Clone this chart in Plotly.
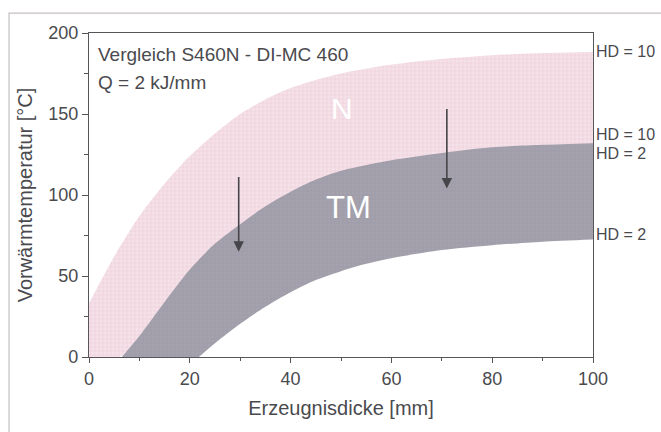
import plotly.graph_objects as go

# ---- data ----
n_upper_x = [0, 5, 10, 15, 20, 25, 30, 35, 40, 45, 50, 60, 70, 80, 90, 100]
n_upper_y = [33, 62, 87, 107, 124, 138, 150, 159, 166, 171, 175, 180.5, 184, 186.3, 187.6, 188.5]
n_lower_x = [0, 6, 10, 20, 30, 40, 50, 60, 70, 80, 90, 100]
n_lower_y = [0, 0, 10, 45, 70, 90, 103, 112, 118, 122, 124.5, 126]

tm_upper_x = [6.5, 10, 15, 20, 25, 30, 35, 40, 45, 50, 60, 70, 80, 90, 100]
tm_upper_y = [0, 13, 34, 54, 70, 82, 93, 102, 109.5, 115, 121.5, 126, 129.5, 131, 132]
tm_lower_x = [21.8, 25, 30, 35, 40, 45, 50, 55, 60, 70, 80, 90, 100]
tm_lower_y = [0, 8.5, 20.5, 31, 40, 47.5, 53, 57.5, 61, 66, 69, 71.2, 72.6]

x_ticks = [0, 20, 40, 60, 80, 100]
y_ticks = [0, 50, 100, 150, 200]

arrows = [  # x, from y, to y
    (29.7, 112, 65),
    (71, 154, 104),
]
right_labels = [("HD = 10", 188.5), ("HD = 10", 137.2), ("HD = 2", 125.9), ("HD = 2", 75.5)]

TXT = "#4a4a4e"
FONT = "Liberation Sans, Arial, sans-serif"

fig = go.Figure()


def band(xl, yl, xu, yu, fillcolor, pattern, name):
    fig.add_trace(go.Scatter(
        x=xl, y=yl, mode="lines", line=dict(width=0, shape="spline", smoothing=0.8),
        hoverinfo="skip", showlegend=False, name=name + " lower"))
    fig.add_trace(go.Scatter(
        x=xu, y=yu, mode="lines", line=dict(width=0, shape="spline", smoothing=0.8),
        fill="tonexty", fillcolor=fillcolor, fillpattern=pattern,
        hoverinfo="skip", showlegend=False, name=name))


band(n_lower_x, n_lower_y, n_upper_x, n_upper_y, "#f2dde5",
     dict(shape="+", bgcolor="#f5e2e9", fgcolor="#e6bccb", size=4, solidity=0.3), "N")
band(tm_lower_x, tm_lower_y, tm_upper_x, tm_upper_y, "#a09eaa",
     dict(shape="+", bgcolor="#a4a2ae", fgcolor="#9593a0", size=4, solidity=0.3), "TM")

ann = []
ann.append(dict(x=1.4, y=187, xref="x", yref="y", text="Vergleich S460N - DI-MC 460",
                showarrow=False, xanchor="left", yanchor="middle",
                font=dict(size=19, color=TXT, family=FONT)))
ann.append(dict(x=1.4, y=169.5, xref="x", yref="y", text="Q = 2 kJ/mm",
                showarrow=False, xanchor="left", yanchor="middle",
                font=dict(size=19, color=TXT, family=FONT)))
ann.append(dict(x=50.2, y=153.5, xref="x", yref="y", text="N", showarrow=False,
                font=dict(size=30, color="white", family=FONT)))
ann.append(dict(x=51.4, y=92, xref="x", yref="y", text="TM", showarrow=False,
                font=dict(size=31, color="white", family=FONT)))
for ax_, y0, y1 in arrows:
    ann.append(dict(x=ax_, y=y1, ax=ax_, ay=y0, xref="x", yref="y", axref="x", ayref="y",
                    text="", showarrow=True, arrowhead=2, arrowsize=1.3, arrowwidth=1.6,
                    arrowcolor="#45454a"))
for t, yv in right_labels:
    ann.append(dict(x=100, y=yv, xref="x", yref="y", text=t, showarrow=False,
                    xanchor="left", yanchor="middle", xshift=1,
                    font=dict(size=16, color=TXT, family=FONT)))

fig.update_layout(
    width=661, height=432,
    margin=dict(l=89, r=68, t=33, b=75),
    paper_bgcolor="white", plot_bgcolor="white",
    annotations=ann,
    font=dict(family=FONT, color=TXT),
    shapes=[dict(type="path", xref="paper", yref="paper",
                 path="M 1.3,1.0616 L -0.1587,1.0616 L -0.1587,-0.3",
                 line=dict(color="#c4bfc4", width=1.2))],
)
fig.update_xaxes(
    range=[0, 100], tickvals=x_ticks, ticktext=[str(v) for v in x_ticks],
    showgrid=False, zeroline=False, showline=True, linecolor="#55555a", linewidth=1.3,
    mirror=True, ticks="outside", ticklen=5, tickwidth=1.2, tickcolor="#55555a",
    minor=dict(dtick=10, ticks="outside", ticklen=3, tickwidth=1, tickcolor="#55555a"),
    tickfont=dict(size=18, color=TXT),
    title=dict(text="Erzeugnisdicke [mm]", font=dict(size=20, color=TXT), standoff=13),
)
fig.update_yaxes(
    range=[0, 200], tickvals=y_ticks, ticktext=[str(v) for v in y_ticks],
    showgrid=False, zeroline=False, showline=True, linecolor="#55555a", linewidth=1.3,
    mirror=True, ticks="outside", ticklen=6, tickwidth=1.2, tickcolor="#55555a",
    minor=dict(dtick=25, ticks="outside", ticklen=4, tickwidth=1, tickcolor="#55555a"),
    tickfont=dict(size=18, color=TXT),
    title=dict(text="Vorwärmtemperatur [°C]", font=dict(size=20, color=TXT), standoff=10),
)

fig.write_html("out.html")
